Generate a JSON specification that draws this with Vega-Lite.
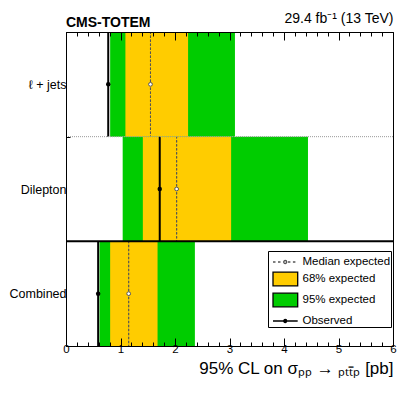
{
  "$schema": "https://vega.github.io/schema/vega-lite/v6.json",
  "width": 327,
  "height": 314,
  "autosize": "none",
  "padding": {"left": 66, "top": 32, "right": 22, "bottom": 53},
  "background": "white",
  "config": {
    "font": "Liberation Sans",
    "view": {"stroke": "black", "strokeWidth": 1}
  },
  "title": {
    "text": "CMS-TOTEM",
    "anchor": "start",
    "frame": "group",
    "fontSize": 14,
    "fontWeight": "bold",
    "color": "black",
    "offset": -18
  },
  "datasets": {
    "limits": [
      {"channel": "ℓ + jets", "obs": 0.775, "exp": 1.55, "lo68": 1.09, "hi68": 2.24, "lo95": 0.81, "hi95": 3.1},
      {"channel": "Dilepton", "obs": 1.72, "exp": 2.03, "lo68": 1.41, "hi68": 3.03, "lo95": 1.04, "hi95": 4.44},
      {"channel": "Combined", "obs": 0.59, "exp": 1.15, "lo68": 0.81, "hi68": 1.68, "lo95": 0.615, "hi95": 2.365}
    ],
    "entries": [
      {"entry": "Median expected"},
      {"entry": "68% expected"},
      {"entry": "95% expected"},
      {"entry": "Observed"}
    ]
  },
  "layer": [
    {
      "data": {"name": "limits"},
      "mark": {"type": "bar", "color": "#00cc00"},
      "encoding": {
        "y": {
          "field": "channel", "type": "nominal",
          "sort": ["ℓ + jets", "Dilepton", "Combined"],
          "scale": {"paddingInner": 0, "paddingOuter": 0},
          "axis": {
            "orient": "left", "title": null, "zindex": 1,
            "labelFontSize": 12.5, "labelColor": "black", "labelPadding": 4,
            "tickBand": "extent", "tickSize": -4, "tickColor": "black",
            "domain": true, "domainColor": "black",
            "grid": false
          }
        },
        "x": {
          "field": "lo95", "type": "quantitative",
          "scale": {"domain": [0, 6], "nice": false, "zero": false},
          "axis": {
            "orient": "bottom", "zindex": 1,
            "values": [0,0.2,0.4,0.6,0.8,1,1.2,1.4,1.6,1.8,2,2.2,2.4,2.6,2.8,3,3.2,3.4,3.6,3.8,4,4.2,4.4,4.6,4.8,5,5.2,5.4,5.6,5.8,6],
            "labelExpr": "abs(datum.value - round(datum.value)) < 0.001 ? format(datum.value, 'd') : ''",
            "tickSize": {"condition": {"test": "abs(datum.value - round(datum.value)) < 0.001", "value": -8}, "value": -4},
            "tickColor": "black", "domainColor": "black",
            "labelFontSize": 11.5, "labelColor": "black", "labelPadding": 5, "labelFlush": false,
            "grid": false,
            "title": "95% CL on σₚₚ → ₚₜₜ̄ₚ [pb]",
            "titleAnchor": "end", "titleFontSize": 17, "titleFontWeight": "normal", "titleColor": "black", "titlePadding": 6
          }
        },
        "x2": {"field": "hi95"}
      }
    },
    {
      "data": {"name": "limits"},
      "mark": {"type": "bar", "color": "#ffcc00"},
      "encoding": {
        "y": {"field": "channel", "type": "nominal", "sort": ["ℓ + jets", "Dilepton", "Combined"], "axis": null},
        "x": {"field": "lo68", "type": "quantitative", "axis": null},
        "x2": {"field": "hi68"}
      }
    },
    {
      "data": {"name": "limits"},
      "mark": {"type": "bar", "fill": "transparent", "stroke": "#555555", "strokeWidth": 1, "strokeDash": [2, 2]},
      "encoding": {
        "y": {"field": "channel", "type": "nominal", "sort": ["ℓ + jets", "Dilepton", "Combined"], "axis": null},
        "x": {
          "field": "exp", "type": "quantitative",
          "axis": {
            "orient": "top", "zindex": 1,
            "values": [0,0.2,0.4,0.6,0.8,1,1.2,1.4,1.6,1.8,2,2.2,2.4,2.6,2.8,3,3.2,3.4,3.6,3.8,4,4.2,4.4,4.6,4.8,5,5.2,5.4,5.6,5.8,6],
            "labels": false,
            "tickSize": {"condition": {"test": "abs(datum.value - round(datum.value)) < 0.001", "value": -8}, "value": -4},
            "tickColor": "black", "domainColor": "black", "grid": false,
            "title": "29.4 fb⁻¹ (13 TeV)",
            "titleAnchor": "end", "titleFontSize": 14, "titleFontWeight": "normal", "titleColor": "black", "titlePadding": 6
          }
        },
        "x2": {"field": "exp"}
      }
    },
    {
      "data": {"name": "limits"},
      "mark": {"type": "bar", "fill": "transparent", "stroke": "black", "strokeWidth": 2},
      "encoding": {
        "y": {"field": "channel", "type": "nominal", "sort": ["ℓ + jets", "Dilepton", "Combined"], "axis": null},
        "x": {"field": "obs", "type": "quantitative", "axis": null},
        "x2": {"field": "obs"}
      }
    },
    {
      "data": {"name": "limits"},
      "transform": [{"filter": "datum.channel === 'Dilepton'"}],
      "mark": {"type": "rule", "color": "#999999", "strokeWidth": 1, "strokeDash": [1, 1]},
      "encoding": {
        "y": {"field": "channel", "type": "nominal", "sort": ["ℓ + jets", "Dilepton", "Combined"], "bandPosition": 0, "axis": null}
      }
    },
    {
      "data": {"name": "limits"},
      "transform": [{"filter": "datum.channel === 'Combined'"}],
      "mark": {"type": "rule", "color": "black", "strokeWidth": 2},
      "encoding": {
        "y": {"field": "channel", "type": "nominal", "sort": ["ℓ + jets", "Dilepton", "Combined"], "bandPosition": 0, "axis": null}
      }
    },
    {
      "data": {"name": "limits"},
      "mark": {"type": "point", "shape": "circle", "size": 14, "stroke": "#555555", "strokeWidth": 1, "fill": "white", "filled": false, "opacity": 1},
      "encoding": {
        "y": {"field": "channel", "type": "nominal", "sort": ["ℓ + jets", "Dilepton", "Combined"], "axis": null},
        "x": {"field": "exp", "type": "quantitative", "axis": null}
      }
    },
    {
      "data": {"name": "limits"},
      "mark": {"type": "point", "shape": "circle", "size": 20, "filled": true, "color": "black", "opacity": 1},
      "encoding": {
        "y": {"field": "channel", "type": "nominal", "sort": ["ℓ + jets", "Dilepton", "Combined"], "axis": null},
        "x": {"field": "obs", "type": "quantitative", "axis": null}
      }
    },
    {
      "data": {"name": "entries"},
      "transform": [{"filter": "false"}],
      "mark": {"type": "point", "opacity": 1},
      "encoding": {
        "fill": {
          "field": "entry", "type": "nominal",
          "scale": {"domain": ["Median expected", "68% expected", "95% expected", "Observed"], "range": ["white", "#ffcc00", "#00cc00", "black"]},
          "legend": {
            "orient": "none", "legendX": 202, "legendY": 219, "title": null,
            "padding": 0, "strokeColor": "black", "fillColor": "white",
            "symbolSize": 400, "symbolStrokeWidth": 1.3, "rowPadding": 0,
            "labelFontSize": 11.5, "labelColor": "black", "labelOffset": 12.5, "labelFont": "Liberation Sans",
            "labelExpr": "datum.label + '  '"
          }
        },
        "stroke": {
          "field": "entry", "type": "nominal",
          "scale": {"domain": ["Median expected", "68% expected", "95% expected", "Observed"], "range": ["#555555", "black", "black", "black"]},
          "legend": {}
        },
        "shape": {
          "field": "entry", "type": "nominal",
          "scale": {
            "domain": ["Median expected", "68% expected", "95% expected", "Observed"],
            "range": [
              "M-0.6,0H-0.35M-0.1,0H0.15M0.89,0H1.14M1.39,0H1.64M0.77,0A0.15,0.15,0,1,1,0.47,0A0.15,0.15,0,1,1,0.77,0Z",
              "M-0.6,-0.68H1.87V0.68H-0.6Z",
              "M-0.6,-0.68H1.87V0.68H-0.6Z",
              "M-0.6,0H0.47M0.77,0H1.87M0.77,0A0.15,0.15,0,1,1,0.47,0A0.15,0.15,0,1,1,0.77,0Z"
            ]
          },
          "legend": {}
        }
      }
    }
  ],
  "resolve": {"axis": {"x": "independent", "y": "independent"}}
}
